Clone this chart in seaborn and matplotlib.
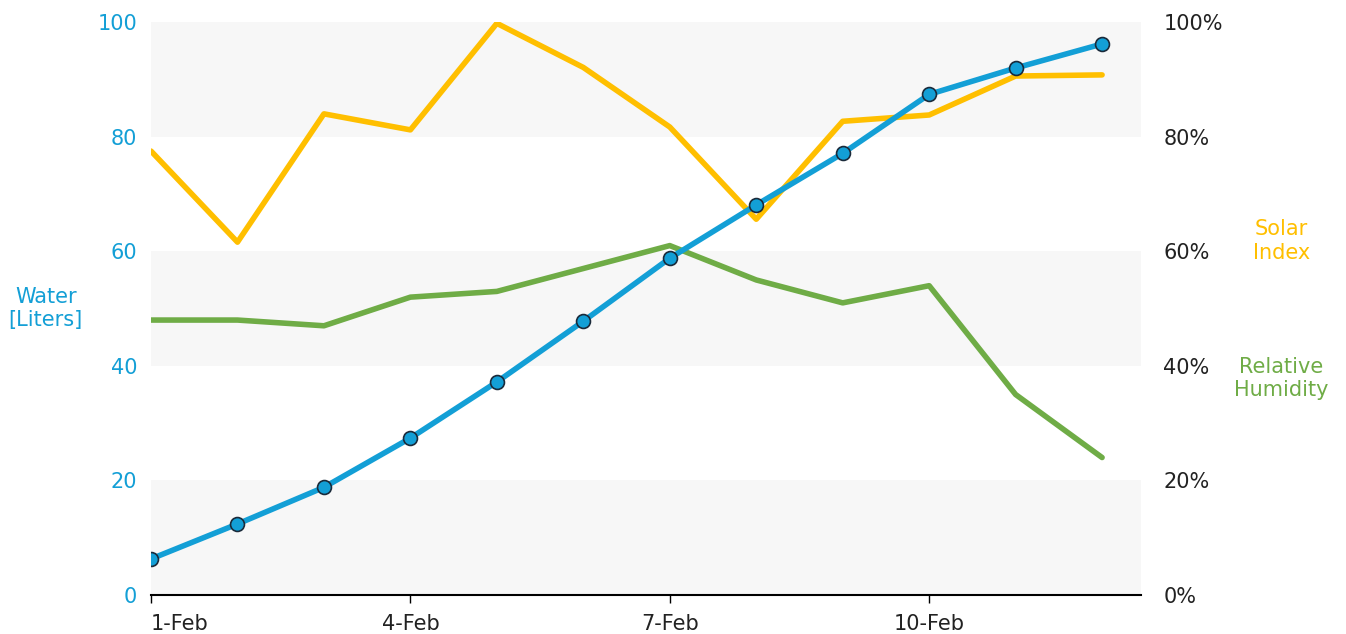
import matplotlib
matplotlib.use('Agg')
import numpy as np
import pandas as pd
import seaborn as sns
import matplotlib.pyplot as plt
from matplotlib.ticker import PercentFormatter

sns.set_style('white')
plt.rcParams['font.family'] = ['DejaVu Sans']

# 数据：2月1日至12日
days = list(range(1, 13))
day_labels = ['1-Feb', '4-Feb', '7-Feb', '10-Feb']
water = [6.3, 12.4, 18.8, 27.4, 37.2, 47.8, 58.8, 68.1, 77.1, 87.4, 92.0, 96.2]
solar = [77.5, 61.6, 84.0, 81.2, 99.8, 92.1, 81.7, 65.6, 82.7, 83.8, 90.6, 90.8]
humidity = [48, 48, 47, 52, 53, 57, 61, 55, 51, 54, 35, 24]

blue = '#139fd6'
yellow = '#ffbf00'
green = '#6fac46'

df = pd.DataFrame({'day': days, 'water': water, 'solar': solar, 'humidity': humidity})

fig = plt.figure(figsize=(13.46, 6.34), dpi=100)
ax = fig.add_axes([0.1122, 0.0615, 0.7355, 0.9035])
ax2 = ax.twinx()

# 背景灰色横带（画在后面的右轴上）
for lo in (0, 40, 80):
    ax2.axhspan(lo, lo + 20, color='#f7f7f7', zorder=0, lw=0)

sns.lineplot(data=df, x='day', y='solar', ax=ax2, color=yellow, lw=4, zorder=2)
sns.lineplot(data=df, x='day', y='humidity', ax=ax2, color=green, lw=4, zorder=2)
sns.lineplot(data=df, x='day', y='water', ax=ax, color=blue, lw=4, marker='o',
             markersize=10, markeredgecolor='#1a2a3a', markeredgewidth=1.2, zorder=3)

# 让左轴的线画在右轴上面
ax.set_zorder(ax2.get_zorder() + 1)
ax.patch.set_visible(False)
ax2.patch.set_visible(False)

ax.set_xlim(1, 12.45)
ax.set_ylim(0, 100)
ax2.set_ylim(0, 100)
ax.set_xticks([1, 4, 7, 10])
ax.set_xticklabels(day_labels)
ax.get_xticklabels()[0].set_horizontalalignment('left')
ax.set_yticks([0, 20, 40, 60, 80, 100])
ax2.set_yticks([0, 20, 40, 60, 80, 100])
ax2.yaxis.set_major_formatter(PercentFormatter(100, decimals=0))
ax.set_xlabel('')
ax.set_ylabel('')
ax2.set_ylabel('')

for a in (ax, ax2):
    for s in ('top', 'left', 'right'):
        a.spines[s].set_visible(False)
ax2.spines['bottom'].set_visible(False)
ax.spines['bottom'].set_color('black')
ax.spines['bottom'].set_linewidth(1.5)

ax.tick_params(axis='x', bottom=True, direction='out', length=6, width=1, colors='black',
               labelsize=15, pad=8, labelcolor='#222222')
ax.tick_params(axis='y', length=0, labelsize=15, labelcolor=blue, pad=10)
ax2.tick_params(axis='y', length=0, labelsize=15, labelcolor='#222222', pad=16)

fig.text(0.034, 0.514, 'Water\n[Liters]', color=blue, fontsize=15, ha='center', va='center')
fig.text(0.952, 0.62, 'Solar\nIndex', color=yellow, fontsize=15, ha='center', va='center')
fig.text(0.952, 0.403, 'Relative\nHumidity', color=green, fontsize=15, ha='center', va='center')

plt.savefig('out.png', dpi=100)
